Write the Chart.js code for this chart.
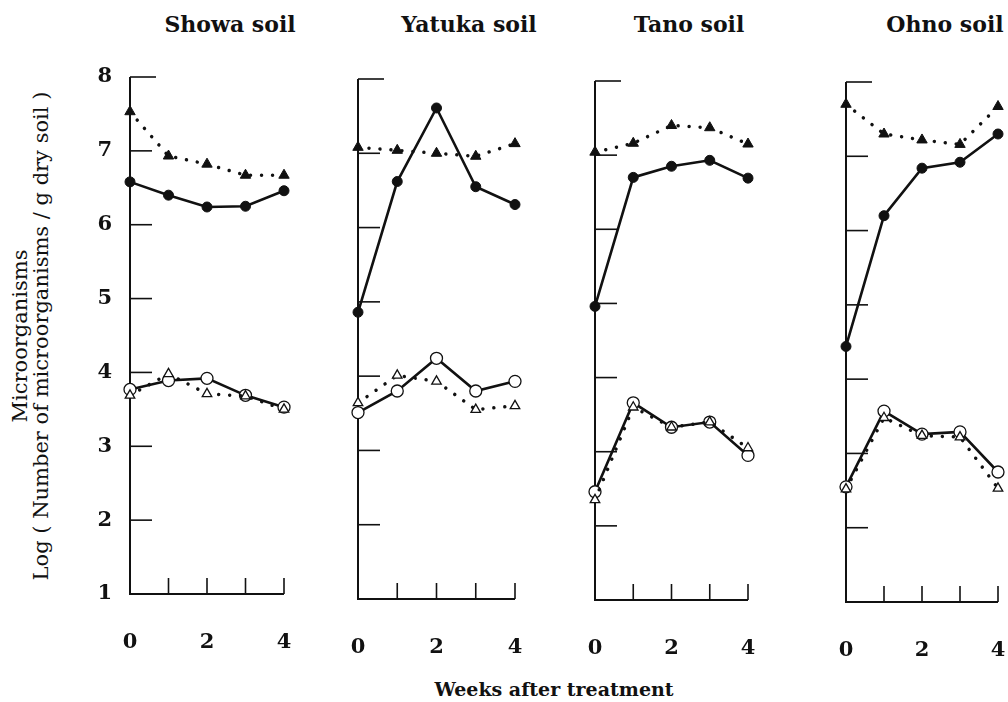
<!DOCTYPE html>
<html>
<head>
<meta charset="utf-8">
<script src="https://cdn.jsdelivr.net/npm/chart.js@4.4.0/dist/chart.umd.min.js"></script>
<style>
  body { margin: 0; background: #fff; }
  #page { position: relative; width: 1008px; height: 702px; overflow: hidden; background: #fff; font-family: "DejaVu Serif", serif; color: #111; }
  .panel { position: absolute; top: 0; }
  .soil-title { position: absolute; top: 11px; font-weight: bold; font-size: 22px; transform: translateX(-50%); white-space: nowrap; }
  #ytitle { position: absolute; left: 31px; top: 336px; transform: translate(-50%, -50%) rotate(-90deg); text-align: center; font-size: 21px; line-height: 21px; white-space: nowrap; }
  #xtitle { position: absolute; left: 554px; top: 678px; transform: translateX(-50%); font-weight: bold; font-size: 19px; white-space: nowrap; }
</style>
</head>
<body>
<div id="page">
  <div id="ytitle">Microorganisms<br>Log ( Number of microorganisms / g dry soil )</div>
  <div id="xtitle">Weeks after treatment</div>
</div>
<script>
// data
const weeks = [0, 1, 2, 3, 4];
const soilNames = ['Showa soil', 'Yatuka soil', 'Tano soil', 'Ohno soil'];
const yTicks = [1, 2, 3, 4, 5, 6, 7, 8];
const xTickLabels = ['0', '', '2', '', '4'];

// filled triangle (dotted), filled circle (solid), open circle (solid), open triangle (dotted)
const showaFilledTri = [7.53, 6.93, 6.82, 6.67, 6.67];
const showaFilledCircle = [6.58, 6.40, 6.24, 6.25, 6.46];
const showaOpenCircle = [3.77, 3.89, 3.92, 3.69, 3.53];
const showaOpenTri = [3.69, 3.98, 3.71, 3.68, 3.50];

const yatukaFilledTri = [7.08, 7.04, 7.00, 6.96, 7.13];
const yatukaFilledCircle = [4.86, 6.62, 7.61, 6.55, 6.31];
const yatukaOpenCircle = [3.51, 3.80, 4.24, 3.80, 3.93];
const yatukaOpenTri = [3.64, 4.01, 3.93, 3.55, 3.60];

const tanoFilledTri = [7.04, 7.16, 7.40, 7.37, 7.15];
const tanoFilledCircle = [4.96, 6.70, 6.85, 6.93, 6.69];
const tanoOpenCircle = [2.46, 3.66, 3.33, 3.40, 2.95];
const tanoOpenTri = [2.35, 3.60, 3.33, 3.40, 3.05];

const ohnoFilledTri = [7.70, 7.30, 7.22, 7.16, 7.67];
const ohnoFilledCircle = [4.44, 6.20, 6.84, 6.92, 7.30];
const ohnoOpenCircle = [2.55, 3.57, 3.26, 3.29, 2.75];
const ohnoOpenTri = [2.52, 3.48, 3.24, 3.22, 2.53];

const panelSeries = [
  [showaFilledTri, showaFilledCircle, showaOpenCircle, showaOpenTri],
  [yatukaFilledTri, yatukaFilledCircle, yatukaOpenCircle, yatukaOpenTri],
  [tanoFilledTri, tanoFilledCircle, tanoOpenCircle, tanoOpenTri],
  [ohnoFilledTri, ohnoFilledCircle, ohnoOpenCircle, ohnoOpenTri]
];

// plot area of each panel on the page (axis box)
const panelBoxes = [
  { left: 130, right: 284, top: 77, bottom: 594, titleX: 230 },
  { left: 358, right: 515, top: 79, bottom: 599, titleX: 469 },
  { left: 595, right: 748, top: 81, bottom: 600, titleX: 689 },
  { left: 846, right: 998, top: 82, bottom: 602, titleX: 945 }
];

const INK = '#111111';
const serif = '"DejaVu Serif", serif';
const yScaleWidth = 60;

// draws the bracket-style axes with inward ticks
const axisPlugin = {
  id: 'axisPlugin',
  beforeDatasetsDraw(chart) {
    const { ctx, chartArea, scales } = chart;
    const x = scales.x;
    const y = scales.y;
    ctx.save();
    ctx.strokeStyle = INK;
    ctx.lineWidth = 2;
    ctx.lineCap = 'butt';
    ctx.beginPath();
    ctx.moveTo(chartArea.left, y.getPixelForValue(8));
    ctx.lineTo(chartArea.left, y.getPixelForValue(1));
    ctx.lineTo(x.getPixelForValue(4), y.getPixelForValue(1));
    ctx.stroke();

    ctx.lineWidth = 1.6;
    yTicks.forEach((v) => {
      if (v === 1) return;
      const py = y.getPixelForValue(v);
      const len = v === 8 ? 26 : 22;
      ctx.beginPath();
      ctx.moveTo(chartArea.left, py);
      ctx.lineTo(chartArea.left + len, py);
      ctx.stroke();
    });
    weeks.forEach((w) => {
      if (w === 0) return;
      const px = x.getPixelForValue(w);
      ctx.beginPath();
      ctx.moveTo(px, y.getPixelForValue(1));
      ctx.lineTo(px, y.getPixelForValue(1) - 16);
      ctx.stroke();
    });
    ctx.restore();
  }
};

const page = document.getElementById('page');

panelBoxes.forEach((box, i) => {
  const title = document.createElement('div');
  title.className = 'soil-title';
  title.style.left = box.titleX + 'px';
  title.textContent = soilNames[i];
  page.appendChild(title);

  const wrap = document.createElement('div');
  wrap.className = 'panel';
  const canvasLeft = box.left - yScaleWidth;
  const canvasWidth = box.right - canvasLeft + 10;
  wrap.style.left = canvasLeft + 'px';
  wrap.style.width = canvasWidth + 'px';
  wrap.style.height = '702px';
  const canvas = document.createElement('canvas');
  wrap.appendChild(canvas);
  page.appendChild(wrap);

  const s = panelSeries[i];
  const mk = (values, opts) => Object.assign({
    data: weeks.map((w, k) => ({ x: w, y: values[k] })),
    borderColor: INK,
    pointBorderColor: INK,
    fill: false,
    tension: 0,
    clip: false
  }, opts);

  const dotted = { borderWidth: 3.5, borderDash: [0.01, 11], borderCapStyle: 'round' };
  const solid = { borderWidth: 2.6 };

  new Chart(canvas, {
    type: 'line',
    data: {
      datasets: [
        mk(s[3], Object.assign({ label: 'open triangle', pointStyle: 'triangle', pointRadius: 5.5, pointBackgroundColor: '#fff', pointBorderWidth: 1.3 }, dotted)),
        mk(s[2], Object.assign({ label: 'open circle', pointStyle: 'circle', pointRadius: 6, pointBackgroundColor: '#fff', pointBorderWidth: 1.3 }, solid)),
        mk(s[0], Object.assign({ label: 'filled triangle', pointStyle: 'triangle', pointRadius: 6, pointBackgroundColor: INK, pointBorderWidth: 1 }, dotted)),
        mk(s[1], Object.assign({ label: 'filled circle', pointStyle: 'circle', pointRadius: 5, pointBackgroundColor: INK, pointBorderWidth: 1 }, solid))
      ]
    },
    options: {
      responsive: true,
      maintainAspectRatio: false,
      animation: false,
      layout: { padding: { top: box.top, right: 10, bottom: 0, left: 0 } },
      scales: {
        x: {
          type: 'linear',
          min: 0,
          max: 4,
          grid: { display: false, drawTicks: false },
          border: { display: false },
          afterFit: (scale) => { scale.height = 702 - box.bottom; },
          ticks: {
            stepSize: 1,
            autoSkip: false,
            maxRotation: 0,
            padding: 0,
            color: INK,
            font: { family: serif, size: 21, weight: 'bold', lineHeight: '98px' },
            callback: (v) => xTickLabels[weeks.indexOf(v)]
          }
        },
        y: {
          min: 1,
          max: 8,
          grid: { display: false, drawTicks: false },
          border: { display: false },
          afterFit: (scale) => { scale.width = yScaleWidth; },
          ticks: {
            display: i === 0,
            stepSize: 1,
            padding: 18,
            color: INK,
            font: { family: serif, size: 21, weight: 'bold' },
            callback: (v) => (yTicks.includes(v) ? String(v) : '')
          }
        }
      },
      plugins: {
        legend: { display: false },
        tooltip: { enabled: false }
      }
    },
    plugins: [axisPlugin]
  });
});
</script>
</body>
</html>
